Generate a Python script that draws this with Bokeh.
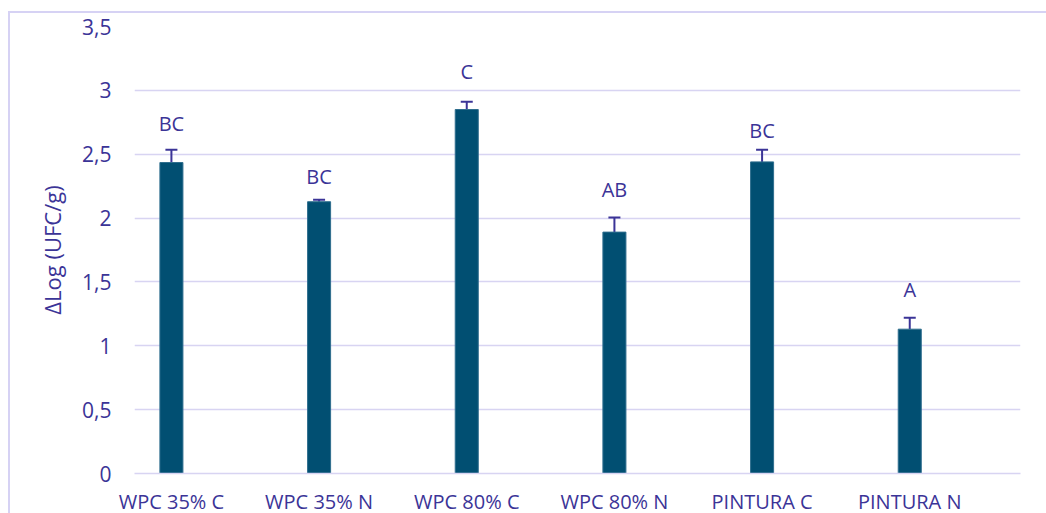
from bokeh.plotting import figure
from bokeh.models import ColumnDataSource, Whisker, TeeHead, FixedTicker, CustomJSTickFormatter, Range1d
from bokeh.core.properties import value
from bokeh.embed import file_html
from bokeh.resources import INLINE

categories = ["WPC 35% C", "WPC 35% N", "WPC 80% C", "WPC 80% N", "PINTURA C", "PINTURA N"]
means = [2.435, 2.128, 2.85, 1.89, 2.44, 1.13]
errors = [0.10, 0.015, 0.06, 0.115, 0.095, 0.09]
letters = ["BC", "BC", "C", "AB", "BC", "A"]
letter_y = [2.74, 2.326, 3.15, 2.224, 2.686, 1.441]
y_ticks = [0, 0.5, 1, 1.5, 2, 2.5, 3, 3.5]

TEXT = "#3B3497"
GRID = "#D8D4F2"
BAR = "#014F72"
FONT = "Open Sans"

xpos = [i + 0.5 for i in range(len(categories))]

src = ColumnDataSource(dict(
    x=xpos, cat=categories, mean=means,
    upper=[m + e for m, e in zip(means, errors)],
    letter=letters, ly=letter_y,
))

p = figure(frame_width=886, frame_height=447, x_range=Range1d(0.25, 6.25), y_range=Range1d(0, 3.5),
           output_backend="svg", toolbar_location=None,
           min_border_left=124, min_border_top=13, min_border_right=26, min_border_bottom=38)
p.margin = (11, 0, 0, 8)
p.styles = {"border-left": "2px solid #D6D2F4", "border-top": "2px solid #D6D2F4"}
p.outline_line_color = None

p.vbar(x="x", top="mean", width=0.156, source=src, fill_color=BAR, line_color="#2F6E8E", line_width=1)

w = Whisker(base="x", upper="upper", lower="mean", source=src,
            line_color=TEXT, line_width=2,
            upper_head=TeeHead(size=12, line_color=TEXT, line_width=2), lower_head=None)
p.add_layout(w)

p.text(x="x", y="ly", text="letter", source=src, text_align="center", text_baseline="middle",
       text_font=value(FONT), text_font_size="20px", text_color=TEXT)

p.xgrid.grid_line_color = None
p.ygrid.grid_line_color = GRID
p.ygrid.grid_line_width = 1.6
p.ygrid.ticker = FixedTicker(ticks=y_ticks)

p.yaxis.ticker = FixedTicker(ticks=y_ticks)
p.yaxis.formatter = CustomJSTickFormatter(code="return tick.toString().replace('.', ',');")
p.yaxis.axis_line_color = None
p.yaxis.major_tick_line_color = None
p.yaxis.minor_tick_line_color = None
p.yaxis.major_label_text_font = FONT
p.yaxis.major_label_text_font_size = "21px"
p.yaxis.major_label_text_color = TEXT
p.yaxis.major_label_standoff = 17
p.yaxis.axis_label = "ΔLog (UFC/g)"
p.yaxis.axis_label_text_font = FONT
p.yaxis.axis_label_text_font_size = "22px"
p.yaxis.axis_label_text_font_style = "normal"
p.yaxis.axis_label_text_color = TEXT
p.yaxis.axis_label_standoff = 12

p.xaxis.ticker = FixedTicker(ticks=xpos)
p.xaxis.formatter = CustomJSTickFormatter(args=dict(cats=categories),
                                          code="return cats[Math.round(tick - 0.5)] || '';")
p.xaxis.axis_line_color = GRID
p.xaxis.axis_line_width = 1.6
p.xaxis.major_tick_line_color = None
p.xaxis.minor_tick_line_color = None
p.xaxis.major_label_text_font = FONT
p.xaxis.major_label_text_font_size = "20px"
p.xaxis.major_label_text_color = TEXT
p.xaxis.major_label_standoff = 8

open("out.html", "w").write(file_html(p, INLINE))
